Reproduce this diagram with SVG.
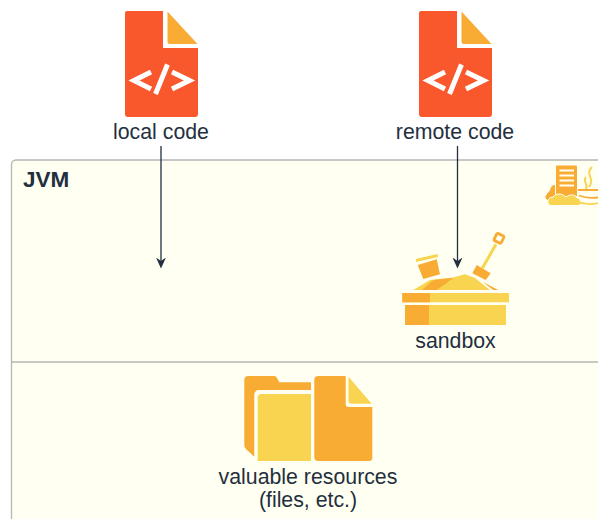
<svg xmlns="http://www.w3.org/2000/svg" width="598" height="519" viewBox="0 0 598 519">
<style>
text{font-family:"Liberation Sans",Arial,sans-serif;font-size:21.3px;fill:#232F3E;text-anchor:middle}
.red{fill:#F9582D}.am{fill:#F9AC33}.ye{fill:#F8D451}
.code{fill:none;stroke:#fff;stroke-width:5}
.wire{fill:none;stroke:#232F3E;stroke-width:1.3}
</style>
<defs>
<marker id="ah" markerUnits="userSpaceOnUse" markerWidth="12" markerHeight="12" refX="3.500" refY="6" orient="auto" viewBox="0 0 12 12"><path d="M0 1L3.500 6L0 11L11 6Z" fill="#232F3E"/></marker>
<g id="codefile">
<path class="red" d="M127 11H163V48H198V114a3 3 0 0 1-3 3H128a3 3 0 0 1-3-3V13a2 2 0 0 1 2-2Z"/>
<path class="am" d="M167.500 11.500L197.500 44H170a2.500 2.500 0 0 1-2.500-2.500Z"/>
<path class="code" d="M151 72L134 80.500L151 89M172 72L189.500 80.500L172 89M167.500 64.500L155.500 94"/>
</g>
</defs>
<g id="jvm-box">
<path d="M600 160H16a4.500 4.500 0 0 0-4.500 4.500V525H600Z" fill="#FFFFF2" stroke="#B5B5B5" stroke-width="1.300"/>
<path d="M12 362H598" stroke="#B5B5B5" stroke-width="1.300"/>
<text x="23" y="187" style="font-weight:700;font-size:22.500px;text-anchor:start">JVM</text>
</g>
<g id="jvm-icon">
<path class="am" d="M557 165.500H576a1 1 0 0 1 1 1V196H556V166.500a1 1 0 0 1 1-1Z"/>
<path d="M559.500 170.500H574M559.500 175.500H574M559.500 180.500H574M559.500 185.500H574" stroke="#FFFFF2" stroke-width="2.200"/>
<path class="am" d="M546 199C544 195 549 193 550 190C551 186 553 185 555 185V200H548Z"/>
<path class="ye" d="M550 205.500C546 203 548 197 553 197C556 193 562 193 566 197C570 194 575 194 577 198C581 198 582 204 579 205.500Z" stroke="#FFFFF2" stroke-width="1"/>
<path d="M592 167C584 175 596 178 589 187M586 177C582 182 589 184 586 189" fill="none" stroke="#F8D451" stroke-width="2"/>
<path d="M578 190H598M579 195.500C585 198 593 198 598 197.500" fill="none" stroke="#F9AC33" stroke-width="1.800"/>
<path d="M574 201C582 204 592 204.500 598 203" fill="none" stroke="#F8D451" stroke-width="1.800"/>
</g>
<g id="local-code">
<use href="#codefile"/>
<text x="161" y="139">local code</text>
</g>
<g id="remote-code">
<use href="#codefile" x="294"/>
<text x="455" y="139">remote code</text>
</g>
<g id="sandbox">
<path class="ye" d="M413.300 290L430 280L453 277.500L465 274.300L475 278L490 290Z"/>
<path class="am" d="M421.700 290L433.300 280L453.300 277.700L445 284.300L436.700 290ZM482.300 281.700L498.300 290H493.300Z"/>
<path class="am" d="M417.700 265L436.700 259.300L440 274.300L423.300 279Z"/>
<path d="M416 260.500L437.700 255.500" stroke="#F8D451" stroke-width="3" fill="none"/>
<path class="am" d="M476.700 265L490.700 273.300L485.700 280L472.300 273.300Z"/>
<path d="M482.300 268.300L496 244.300" stroke="#F8D451" stroke-width="3" fill="none"/>
<rect x="495" y="234.300" width="8" height="8" rx="1.500" transform="rotate(25 499 238.300)" fill="none" stroke="#F9AC33" stroke-width="2.800"/>
<rect class="ye" x="402.300" y="293" width="106.700" height="9.300"/>
<rect class="am" x="402.300" y="293" width="27.700" height="9.300"/>
<rect class="ye" x="405" y="305" width="101" height="20"/>
<rect class="am" x="405" y="305" width="24" height="20"/>
<text x="455.500" y="348">sandbox</text>
</g>
<g id="valuable-resources">
<path class="am" d="M244.300 380a4 4 0 0 1 4-4H274a3 3 0 0 1 3 2L279.300 382.300H311V390H259C256 390 254.300 392 254.300 395V456.700L247 450C245 448 244.300 447 244.300 445Z"/>
<path class="ye" d="M261.700 394H311V461H257.700V398a4 4 0 0 1 4-4Z"/>
<path class="am" d="M318.300 376H345.700V404a3 3 0 0 0 3 3H372.300V458a3 3 0 0 1-3 3H318.300a4 4 0 0 1-4-4V380a4 4 0 0 1 4-4Z"/>
<path class="ye" d="M348.500 376.700L371.700 403.700H351.500a3 3 0 0 1-3-3Z"/>
<text x="308" y="484">valuable resources</text>
<text x="308" y="507">(files, etc.)</text>
</g>
<g id="connectors">
<path class="wire" d="M161 146V261" marker-end="url(#ah)"/>
<path class="wire" d="M457.500 146V261" marker-end="url(#ah)"/>
</g>
</svg>
